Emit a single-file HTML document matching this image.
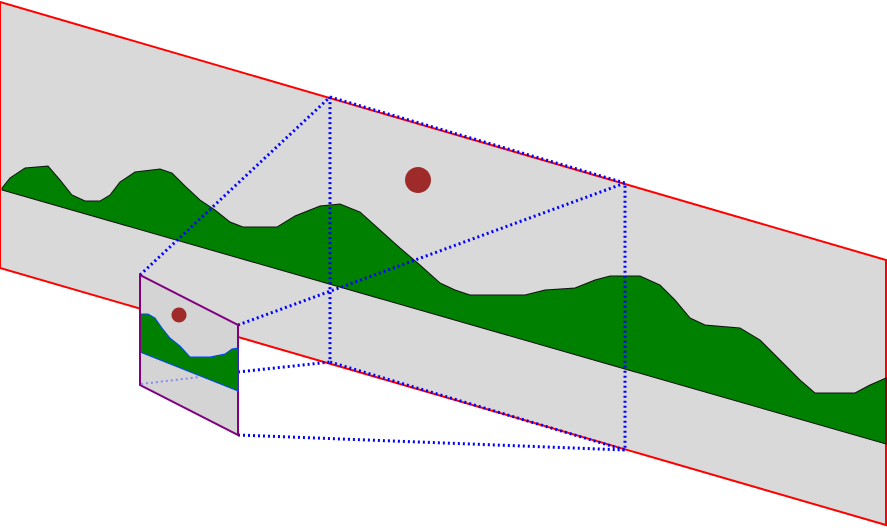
<!DOCTYPE html>
<html><head><meta charset="utf-8"><style>html,body{margin:0;padding:0;background:#fff}svg{display:block}</style></head>
<body>
<svg width="887" height="528" viewBox="0 0 887 528">
<script>
</script>
<polygon points="0,2 886,260 886,525 0,268" fill="#d9d9d9" stroke="#ff0000" stroke-width="2"/>
<polygon fill="#008000" stroke="#111" stroke-width="1"
 points="2,190 2,188 10,178 25,168 48,166 60,180 72,195 85,201 100,201 110,195 120,182 135,172 160,169 172,173 185,186 200,200 215,210 230,222 243,227 277,227 295,216 320,206 340,204 360,212 380,230 400,248 420,265 440,283 455,290 470,295 525,295 545,290 575,288 595,280 610,276 640,276 660,285 675,300 690,318 705,325 740,328 760,340 780,360 800,380 815,393 855,393 870,385 886,378 886,444"/>
<circle cx="418" cy="180" r="13" fill="#9e2a2a"/>
<g fill="none" stroke="#0000ff" stroke-width="3" stroke-dasharray="2,3">
<polygon points="330,97 625,183 625,450 330,362"/>
<line x1="140" y1="275" x2="330" y2="97"/>
<line x1="238" y1="325" x2="625" y2="183"/>
<line x1="238" y1="372" x2="330" y2="362"/>
<line x1="238" y1="435" x2="625" y2="450"/>
</g>
<polygon points="140,275 238,325 238,435 140,385" fill="#d4d4d4" stroke="#800080" stroke-width="2"/>
<polygon fill="#008000" stroke="#0044ff" stroke-width="1"
 points="140,352 140,314 148,314 155,318 162,328 170,338 180,346 190,357 210,357 225,354 232,349 238,348 238,391"/>
<circle cx="179" cy="315" r="7.5" fill="#9e2a2a"/>
<line x1="141" y1="384" x2="200" y2="377" stroke="#8888ee" stroke-width="2" stroke-dasharray="2,3"/>
<line x1="140" y1="275" x2="140" y2="385" stroke="#800080" stroke-width="2"/>
</svg>
</body></html>
